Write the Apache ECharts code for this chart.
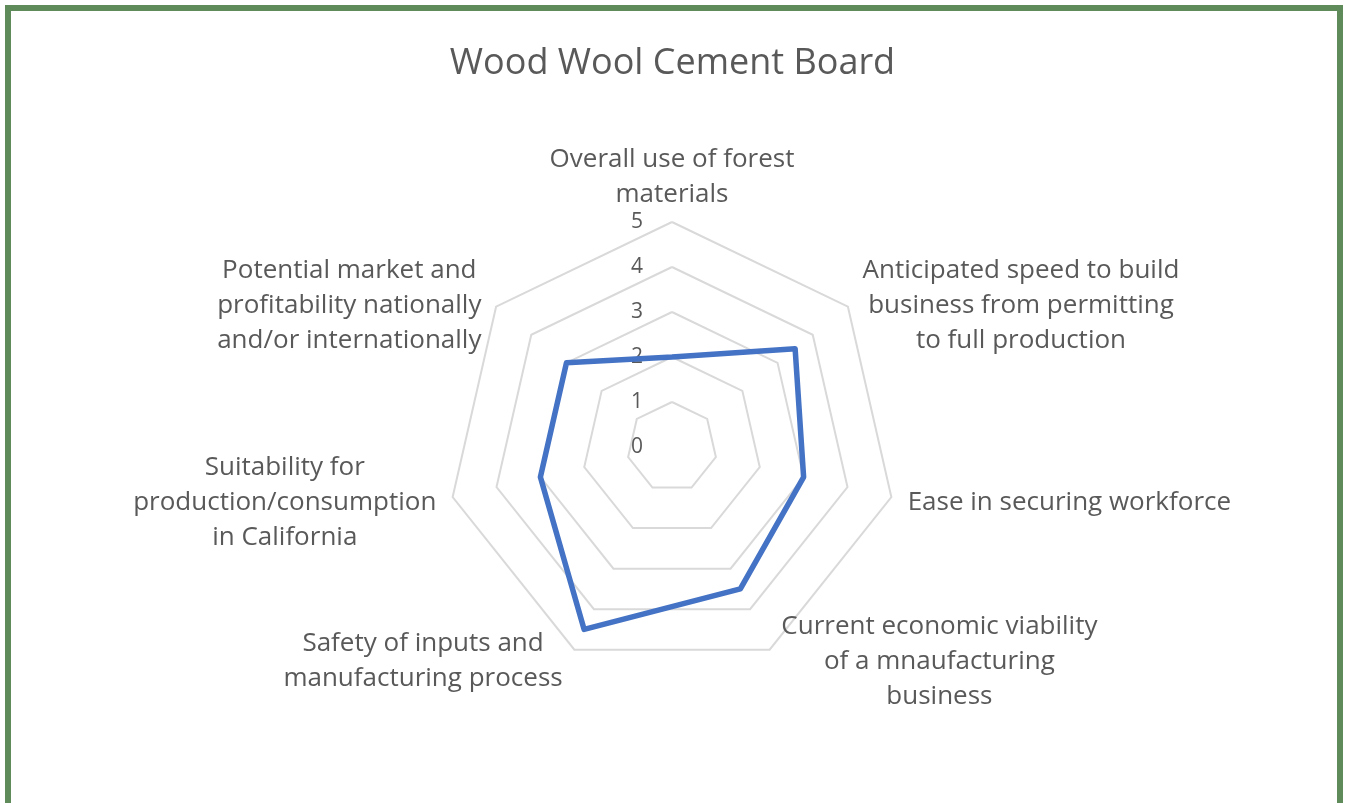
<!DOCTYPE html>
<html>
<head>
<meta charset="utf-8">
<script src="https://cdn.jsdelivr.net/npm/echarts@6/dist/echarts.min.js"></script>
<style>
html,body{margin:0;padding:0;background:#fff;}
#chart{width:1345px;height:803px;}
</style>
</head>
<body>
<div id="chart"></div>
<script>
const titleText = 'Wood Wool Cement Board';
// categories in clockwise order starting from the top
const categories = [
  'Overall use of forest\nmaterials',
  'Anticipated speed to build\nbusiness from permitting\nto full production',
  'Ease in securing workforce',
  'Current economic viability\nof a mnaufacturing\nbusiness',
  'Safety of inputs and\nmanufacturing process',
  'Suitability for\nproduction/consumption\nin California',
  'Potential market and\nprofitability nationally\nand/or internationally'
];
const values = [2, 3.5, 3, 3.5, 4.5, 3, 3];
const axisMax = 5;
const tickCount = 5;

const FONT = '"Open Sans", Lato, sans-serif';
const TXT = '#595959';

// ECharts radar runs counter-clockwise; reorder so the picture reads clockwise
const n = categories.length;
const order = categories.map(function (_, i) { return (n - i) % n; });

const chart = echarts.init(document.getElementById('chart'), null, {renderer: 'canvas'});
chart.setOption({
  animation: false,
  backgroundColor: '#fff',
  title: {
    text: titleText,
    left: 'center',
    top: 41,
    textStyle: {fontFamily: FONT, fontSize: 36, fontWeight: 'normal', color: TXT}
  },
  graphic: [{
    type: 'rect',
    shape: {x: 8, y: 8, width: 1332, height: 830},
    style: {fill: 'none', stroke: '#5f8b5b', lineWidth: 6},
    silent: true
  }],
  radar: {
    center: [672, 447],
    radius: 225,
    startAngle: 90,
    splitNumber: tickCount,
    shape: 'polygon',
    nameGap: 8.5,
    axisName: {
      color: TXT,
      fontFamily: FONT,
      fontSize: 26,
      lineHeight: 35,
      padding: [8, 8, 0, 8],
      formatter: function (v) {
        return v.split('\n').map(function (s) { return '{c|' + s + '}'; }).join('\n');
      },
      rich: {c: {align: 'center', color: TXT, fontFamily: FONT, fontSize: 26, lineHeight: 35}}
    },
    axisLine: {show: false},
    axisTick: {show: false},
    axisLabel: {show: false},
    splitArea: {show: false},
    splitLine: {lineStyle: {color: '#d9d9d9', width: 2}},
    indicator: order.map(function (k, i) {
      const ind = {name: categories[k], min: 0, max: axisMax};
      if (i === 0) {
        ind.axisLabel = {show: true, color: TXT, fontFamily: FONT, fontSize: 21, margin: 29};
      }
      return ind;
    })
  },
  series: [{
    type: 'radar',
    symbol: 'none',
    lineStyle: {color: '#4472c4', width: 5.5},
    data: [{value: order.map(function (k) { return values[k]; }), name: titleText}]
  }]
});
</script>
</body>
</html>
